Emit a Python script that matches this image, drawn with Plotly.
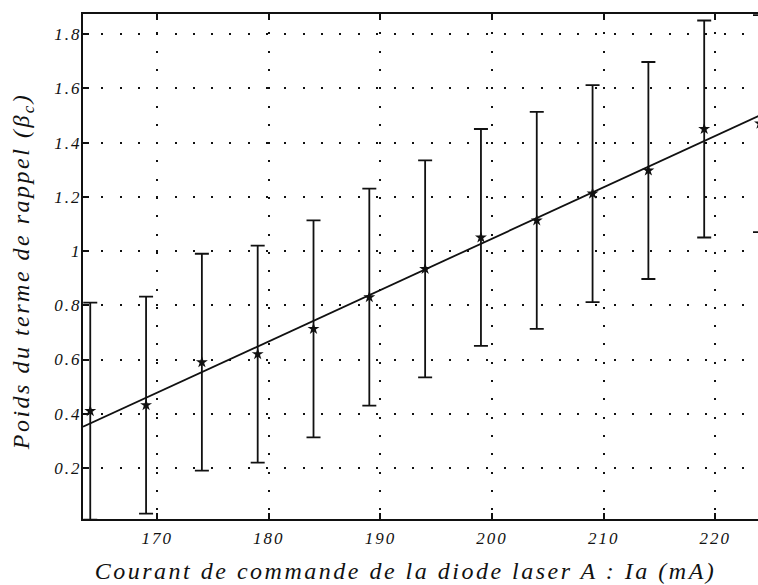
import plotly.graph_objects as go

# Laser diode A drive current (mA) and fitted restoring-term weight
current_ma = [164, 169, 174, 179, 184, 189, 194, 199, 204, 209, 214, 219, 224]
beta_c = [0.41, 0.432, 0.59, 0.62, 0.713, 0.83, 0.934, 1.05, 1.113, 1.212, 1.297, 1.45, 1.47]
beta_err = [0.4, 0.4, 0.4, 0.4, 0.4, 0.4, 0.4, 0.4, 0.4, 0.4, 0.4, 0.4, 0.4]

# Linear trend line end points
fit_x = [163.35, 224.05]
fit_y = [0.352, 1.501]

x_ticks = [170, 180, 190, 200, 210, 220]
x_ticktext = ["170", "180", "190", "200", "210", "220"]
y_ticks = [0.2, 0.4, 0.6, 0.8, 1.0, 1.2, 1.4, 1.6, 1.8]
y_ticktext = ["0.2", "0.4", "0.6", "0.8", "1", "1.2", "1.4", "1.6", "1.8"]

INK = "#111111"
SERIF = "Liberation Serif"

fig = go.Figure()

fig.add_trace(go.Scatter(
    x=fit_x, y=fit_y, mode="lines",
    line=dict(color=INK, width=1.8),
    showlegend=False, hoverinfo="skip",
))

fig.add_trace(go.Scatter(
    x=current_ma, y=beta_c, mode="markers",
    marker=dict(symbol="star", size=9, color=INK),
    error_y=dict(type="data", array=beta_err, symmetric=True,
                 color=INK, thickness=1.8, width=7),
    showlegend=False,
))

axis_font = dict(family=SERIF, size=17, style="italic", color=INK)

fig.update_xaxes(
    range=[163.35, 223.82],
    tickvals=x_ticks, ticktext=x_ticktext,
    ticks="inside", ticklen=6, tickwidth=1.5, tickcolor=INK,
    showline=True, linecolor=INK, linewidth=2, mirror="ticks",
    showgrid=True, gridcolor=INK, gridwidth=1.6, griddash="2px,16.3px",
    tickfont=axis_font, ticklabelstandoff=3,
    zeroline=False,
)
fig.update_yaxes(
    range=[0.012, 1.874],
    tickvals=y_ticks, ticktext=y_ticktext,
    ticks="inside", ticklen=6, tickwidth=1.5, tickcolor=INK,
    showline=True, linecolor=INK, linewidth=2,
    showgrid=True, gridcolor=INK, gridwidth=1.6, griddash="2px,16.3px",
    tickfont=axis_font, ticklabelstandoff=-4,
    zeroline=False,
)

title_font = dict(family=SERIF, size=24, style="italic", color=INK)
fig.add_annotation(
    text="Courant de commande de la diode laser A : Ia (mA)",
    xref="paper", yref="paper", x=0.4785, y=-0.103,
    xanchor="center", yanchor="middle", showarrow=False, font=title_font,
)
fig.add_annotation(
    text="Poids du terme de rappel (β<sub>c</sub>)",
    xref="paper", yref="paper", x=-0.089, y=0.491,
    xanchor="center", yanchor="middle", textangle=-90,
    showarrow=False, font=title_font,
)

fig.update_layout(
    width=758, height=585,
    margin=dict(l=83, r=0, t=14, b=66),
    paper_bgcolor="white", plot_bgcolor="white",
)

# Widen the letter spacing of the serif labels
spacing_js = """
var s = document.createElement('style');
s.textContent = '.xtick text, .ytick text {letter-spacing: 2px;} .annotation-text {letter-spacing: 2.5px;}';
document.head.appendChild(s);
"""

fig.write_html("out.html", post_script=spacing_js)
